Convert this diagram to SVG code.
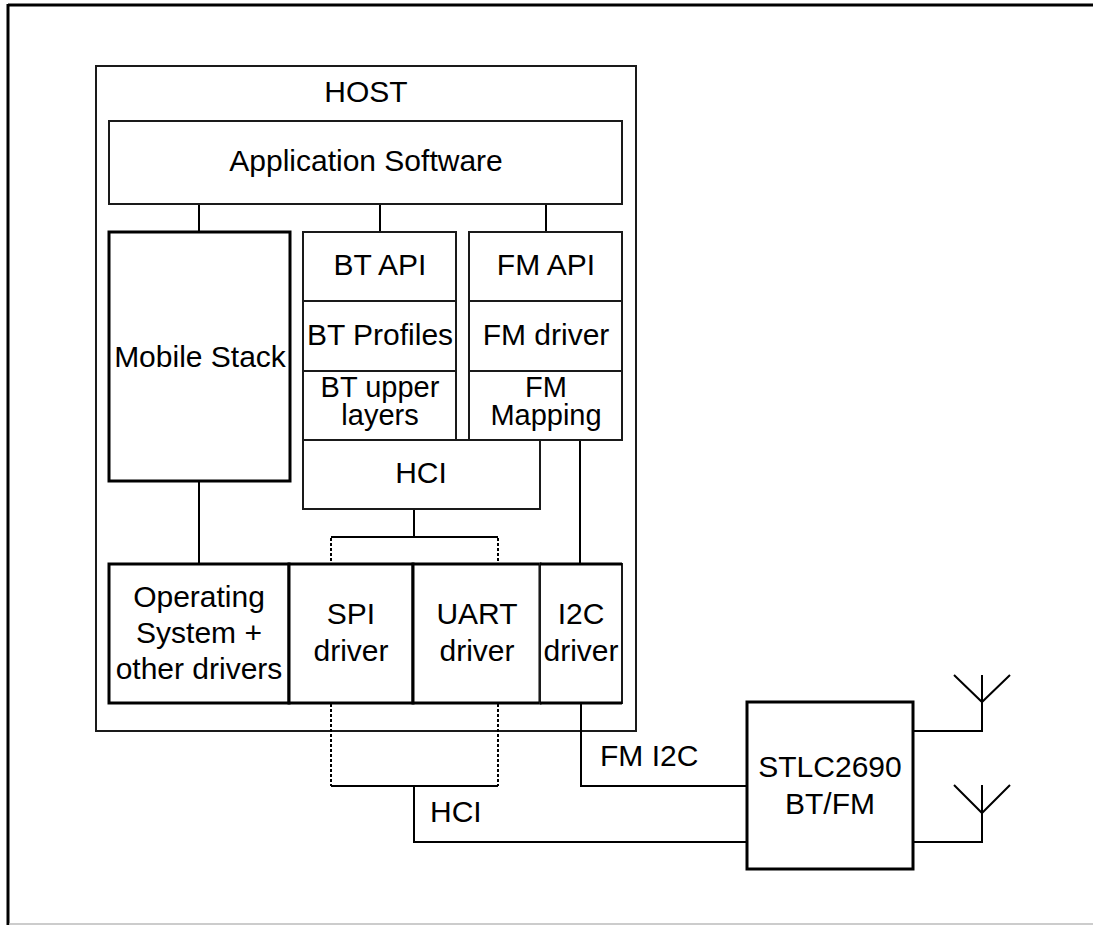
<svg xmlns="http://www.w3.org/2000/svg" width="1093" height="925" viewBox="0 0 1093 925">
<style>
  .box{fill:#fff;stroke:#1a1a1a;stroke-width:2}
  .thick{fill:#fff;stroke:#000;stroke-width:3}
  .t{font-family:"Liberation Sans",Arial,Helvetica,sans-serif;font-size:30px;fill:#000;text-anchor:middle}
  .t2{font-family:"Liberation Sans",Arial,Helvetica,sans-serif;font-size:29px;fill:#000;text-anchor:middle}
  .ln{fill:none;stroke:#000;stroke-width:2}
  .dot{fill:none;stroke:#000;stroke-width:2;stroke-dasharray:3,2}
</style>
<rect width="1093" height="925" fill="#fff"/>
<g id="frame">
  <line x1="8" y1="5" x2="1093" y2="5" stroke="#000" stroke-width="3"/>
  <line x1="8" y1="4" x2="8" y2="925" stroke="#000" stroke-width="3"/>
  <line x1="9" y1="924" x2="1093" y2="924" stroke="#bbb" stroke-width="1.5"/>
</g>
<g id="host">
  <rect class="box" x="96" y="66" width="540" height="665"/>
  <text class="t" x="366" y="102">HOST</text>
</g>
<g id="connectors">
  <line class="ln" x1="199" y1="204" x2="199" y2="232" stroke-width="1.5"/>
  <line class="ln" x1="380" y1="204" x2="380" y2="232" stroke-width="1.5"/>
  <line class="ln" x1="546" y1="204" x2="546" y2="232" stroke-width="1.5"/>
  <line class="ln" x1="199" y1="481" x2="199" y2="564"/>
  <line class="ln" x1="414" y1="509" x2="414" y2="537"/>
  <line class="ln" x1="331" y1="537" x2="498" y2="537"/>
  <line class="dot" x1="331" y1="538" x2="331" y2="564"/>
  <line class="dot" x1="498" y1="538" x2="498" y2="564"/>
  <line class="ln" x1="580" y1="440" x2="580" y2="564"/>
  <line class="dot" x1="331" y1="704" x2="331" y2="786"/>
  <line class="dot" x1="498" y1="704" x2="498" y2="786"/>
  <line class="ln" x1="331" y1="786" x2="498" y2="786"/>
  <polyline class="ln" points="414,786 414,842 747,842"/>
  <polyline class="ln" points="581,703 581,786 747,786"/>
  <text class="t" x="600" y="766" style="text-anchor:start">FM I2C</text>
  <text class="t" x="430" y="822" style="text-anchor:start">HCI</text>
</g>
<g id="app">
  <rect class="box" x="109" y="121" width="513" height="83"/>
  <text class="t" x="366" y="171">Application Software</text>
</g>
<g id="mobile">
  <rect class="thick" x="109" y="232" width="181" height="249"/>
  <text class="t" x="200" y="367">Mobile Stack</text>
</g>
<g id="bt-api">
  <rect class="box" x="303" y="232" width="153" height="69"/>
  <text class="t" x="380" y="275">BT API</text>
</g>
<g id="bt-profiles">
  <rect class="box" x="303" y="301" width="153" height="70"/>
  <text class="t" x="380" y="345">BT Profiles</text>
</g>
<g id="bt-upper">
  <rect class="box" x="303" y="371" width="153" height="69"/>
  <text class="t2" x="380" y="397">BT upper</text>
  <text class="t2" x="380" y="425">layers</text>
</g>
<g id="fm-api">
  <rect class="box" x="469" y="232" width="153" height="69"/>
  <text class="t" x="546" y="275">FM API</text>
</g>
<g id="fm-driver">
  <rect class="box" x="469" y="301" width="153" height="70"/>
  <text class="t" x="546" y="345">FM driver</text>
</g>
<g id="fm-mapping">
  <rect class="box" x="469" y="371" width="153" height="69"/>
  <text class="t2" x="546" y="397">FM</text>
  <text class="t2" x="546" y="425">Mapping</text>
</g>
<g id="hci">
  <rect class="box" x="303" y="440" width="237" height="69" stroke-width="1.5"/>
  <text class="t" x="421" y="483">HCI</text>
</g>
<g id="os">
  <rect class="thick" x="109" y="564" width="180" height="139"/>
  <text class="t" x="199" y="607">Operating</text>
  <text class="t" x="199" y="643">System +</text>
  <text class="t" x="199" y="679">other drivers</text>
</g>
<g id="spi">
  <rect class="thick" x="289" y="564" width="124" height="139"/>
  <text class="t" x="351" y="624">SPI</text>
  <text class="t" x="351" y="661">driver</text>
</g>
<g id="uart">
  <rect class="thick" x="413" y="564" width="127" height="139"/>
  <text class="t" x="477" y="624">UART</text>
  <text class="t" x="477" y="661">driver</text>
</g>
<g id="i2c">
  <rect class="box" x="540" y="564" width="82" height="139"/>
  <line x1="540" y1="564" x2="622" y2="564" stroke="#000" stroke-width="3"/>
  <line x1="540" y1="703" x2="622" y2="703" stroke="#000" stroke-width="3"/>
  <text class="t" x="581" y="624">I2C</text>
  <text class="t" x="581" y="661">driver</text>
</g>
<g id="stlc">
  <rect class="thick" x="747" y="702" width="166" height="167"/>
  <text class="t" x="830" y="777">STLC2690</text>
  <text class="t" x="830" y="814">BT/FM</text>
</g>
<g id="antenna1">
  <polyline class="ln" points="913,731 982,731 982,675"/>
  <polyline class="ln" points="954,675 982,702 1010,675"/>
</g>
<g id="antenna2">
  <polyline class="ln" points="913,842 982,842 982,785"/>
  <polyline class="ln" points="954,785 982,813 1010,785"/>
</g>
</svg>
